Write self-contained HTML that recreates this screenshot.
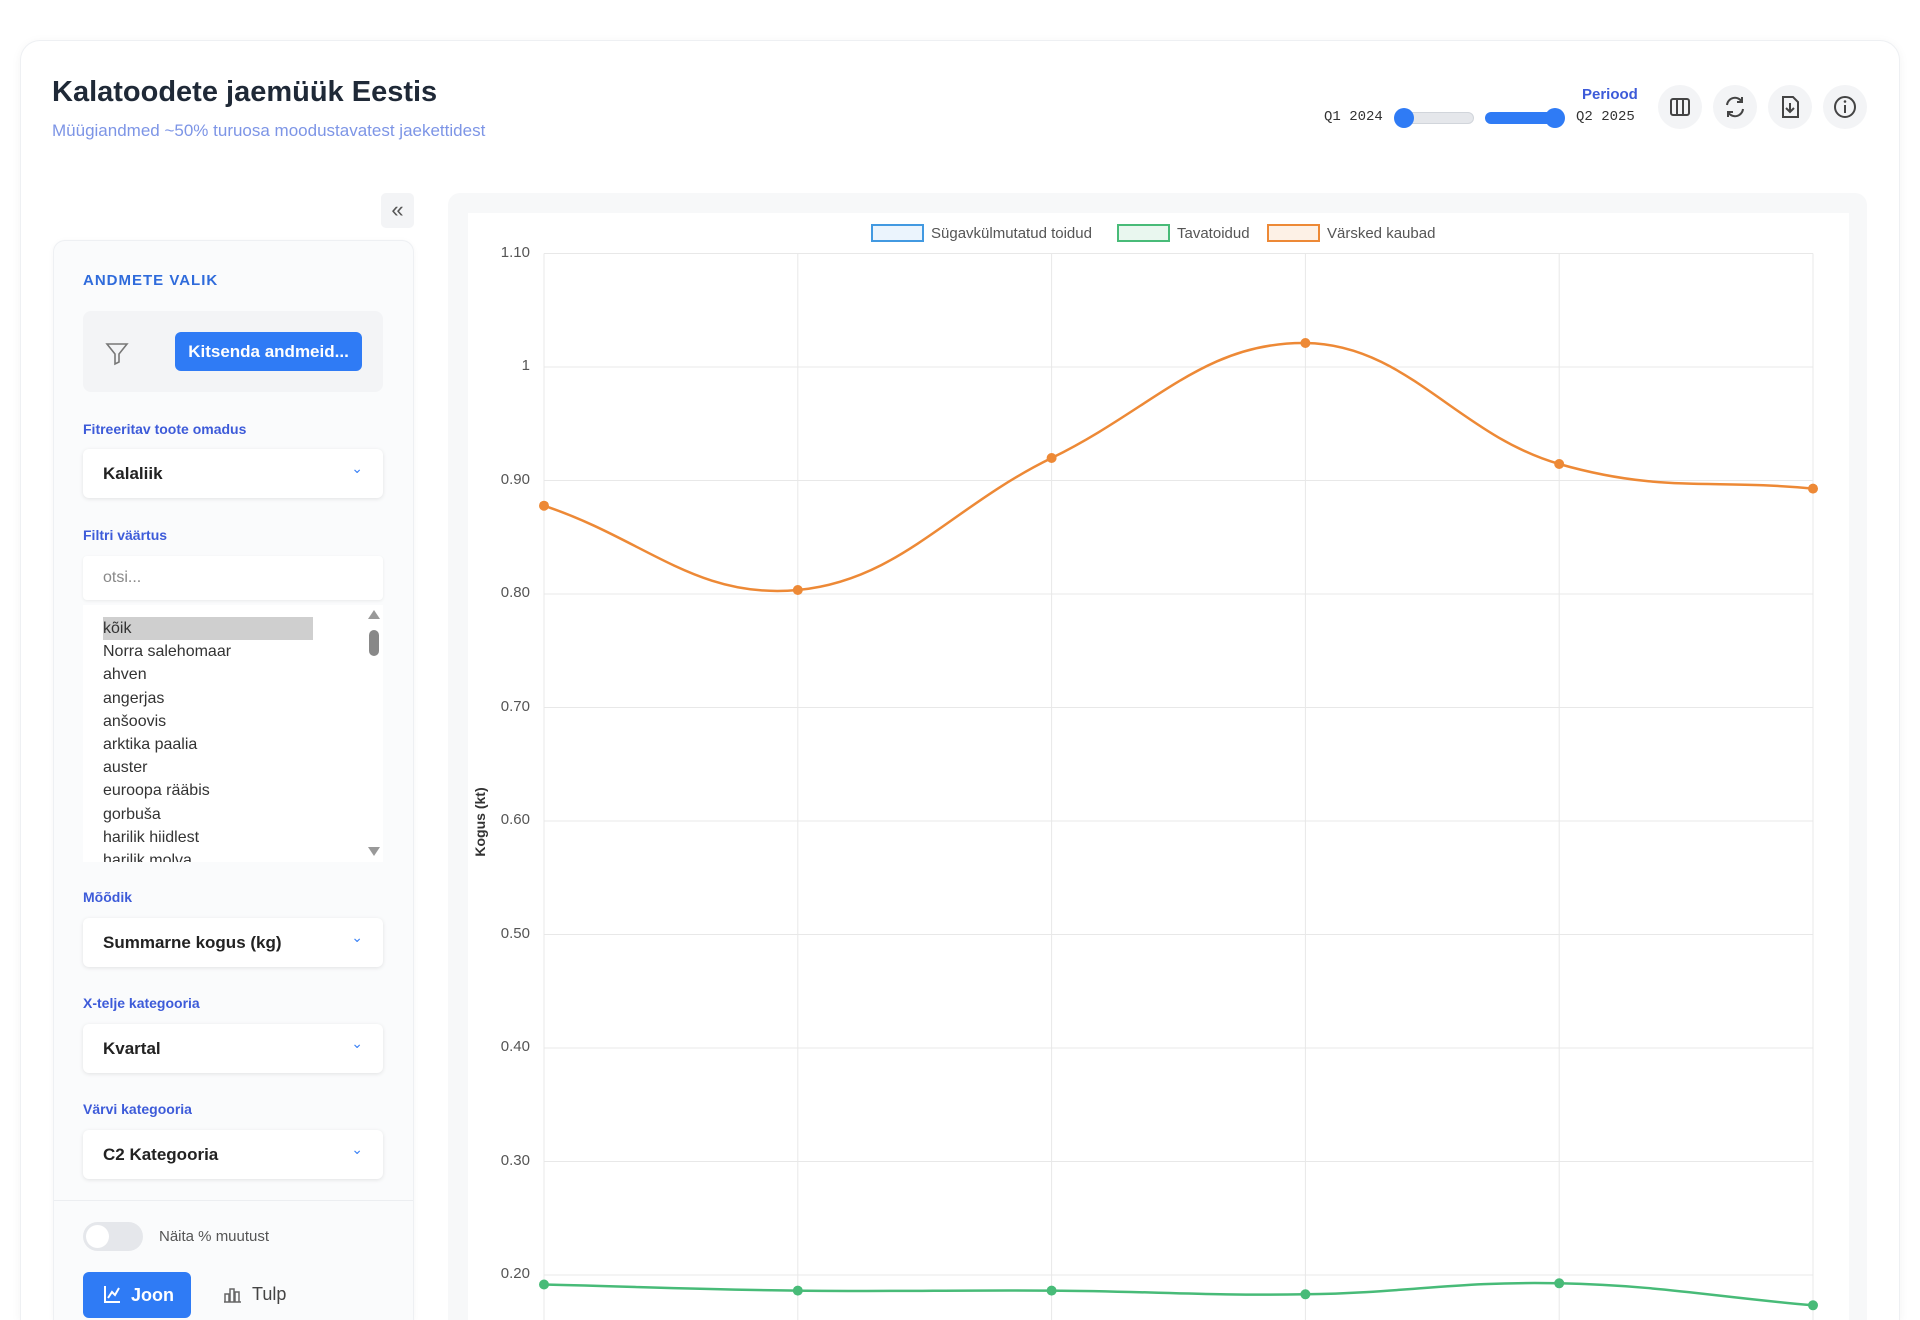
<!DOCTYPE html>
<html style="width:1920px;height:1320px;overflow:hidden"><head><meta charset="utf-8"><style>
*{box-sizing:border-box;margin:0;padding:0}
body{width:1920px;height:1320px;overflow:hidden;background:#fff;font-family:"Liberation Sans",sans-serif;position:relative}
.abs{position:absolute}
.card{left:20px;top:40px;width:1880px;height:1280px;border:1px solid #eef0f3;border-bottom:none;border-radius:20px 20px 0 0;box-shadow:0 2px 10px rgba(0,0,0,.05);background:#fff}
.lbl{position:absolute;left:83px;font-size:14px;font-weight:bold;color:#3d5bd9}
.sel{position:absolute;left:83px;width:300px;height:49px;background:#fff;border-radius:6px;box-shadow:0 1px 4px rgba(0,0,0,.1);font-size:17px;font-weight:bold;color:#222;padding-left:20px;line-height:49px}
.sel:after{content:"⌄";position:absolute;right:20px;top:-5px;color:#3b82f6;font-size:14px;font-weight:normal}
.item{position:absolute;left:103px;font-size:16px;color:#333}
.ib{position:absolute;width:44px;height:44px;border-radius:22px;background:#f3f4f6;top:85px}
.yl{position:absolute;width:60px;text-align:right;left:470px;font-size:15px;color:#555}
</style></head><body>
<div class="abs card"></div>
<div class="abs" style="left:52px;top:76px;font-size:29px;font-weight:bold;color:#1f2937">Kalatoodete jaemüük Eestis</div>
<div class="abs" style="left:52px;top:121px;font-size:17px;color:#7d95e6">Müügiandmed ~50% turuosa moodustavatest jaekettidest</div>

<div class="abs" style="left:1582px;top:86px;font-size:15px;font-weight:bold;color:#3d5bd9;width:55px;text-align:right">Periood</div>
<div class="abs" style="left:1324px;top:109px;font-size:14px;font-family:'Liberation Mono',monospace;color:#333">Q1 2024</div>
<div class="abs" style="left:1576px;top:109px;font-size:14px;font-family:'Liberation Mono',monospace;color:#333">Q2 2025</div>
<div class="abs" style="left:1400px;top:112px;width:74px;height:12px;border-radius:6px;background:#e5e7eb;border:1px solid #d1d5db"></div>
<div class="abs" style="left:1394px;top:108px;width:20px;height:20px;border-radius:10px;background:#2f7bf5"></div>
<div class="abs" style="left:1485px;top:112px;width:76px;height:12px;border-radius:6px;background:#2f7bf5"></div>
<div class="abs" style="left:1545px;top:108px;width:20px;height:20px;border-radius:10px;background:#2f7bf5"></div>
<div class="ib" style="left:1658px"><svg width="44" height="44"><rect x="13" y="14" width="18" height="16" rx="2" fill="none" stroke="#444" stroke-width="2"/><line x1="19" y1="14" x2="19" y2="30" stroke="#444" stroke-width="2"/><line x1="25" y1="14" x2="25" y2="30" stroke="#444" stroke-width="2"/></svg></div>
<div class="ib" style="left:1713px"><svg width="44" height="44"><path d="M14 20a8 8 0 0 1 15-3M30 24a8 8 0 0 1-15 3" fill="none" stroke="#444" stroke-width="2"/><path d="M29 12v5h-5M15 32v-5h5" fill="none" stroke="#444" stroke-width="2"/></svg></div>
<div class="ib" style="left:1768px"><svg width="44" height="44"><path d="M15 12h10l5 5v15H15z" fill="none" stroke="#444" stroke-width="2"/><path d="M22 18v9M18 23l4 4 4-4" fill="none" stroke="#444" stroke-width="2"/></svg></div>
<div class="ib" style="left:1823px"><svg width="44" height="44"><circle cx="22" cy="22" r="10" fill="none" stroke="#444" stroke-width="2"/><line x1="22" y1="20" x2="22" y2="28" stroke="#444" stroke-width="2"/><circle cx="22" cy="16.5" r="1.3" fill="#444"/></svg></div>

<div class="abs" style="left:381px;top:193px;width:33px;height:35px;border-radius:5px;background:#f3f4f6;text-align:center;line-height:33px;font-size:22px;color:#555">«</div>
<div class="abs" style="left:53px;top:240px;width:361px;height:1080px;border:1px solid #eef0f3;border-bottom:none;border-radius:12px 12px 0 0;background:#fafbfc;box-shadow:0 1px 6px rgba(0,0,0,.04)"></div>
<div class="abs" style="left:83px;top:272px;font-size:15px;font-weight:bold;color:#2f6bdb;letter-spacing:1px">ANDMETE VALIK</div>
<div class="abs" style="left:83px;top:311px;width:300px;height:81px;background:#f3f4f6;border-radius:8px"></div>
<svg class="abs" style="left:104px;top:340px" width="26" height="26"><path d="M3 4h20l-8 10v8l-4 2V14z" fill="none" stroke="#777" stroke-width="1.6"/></svg>
<div class="abs" style="left:175px;top:332px;width:187px;height:39px;border-radius:6px;background:#2f7bf5;color:#fff;font-size:17px;font-weight:bold;text-align:center;line-height:39px">Kitsenda andmeid...</div>
<div class="lbl" style="top:421px">Fitreeritav toote omadus</div>
<div class="sel" style="top:449px">Kalaliik</div>
<div class="lbl" style="top:527px">Filtri väärtus</div>
<div class="abs" style="left:83px;top:556px;width:300px;height:44px;background:#fff;border-radius:4px;box-shadow:0 1px 3px rgba(0,0,0,.07);font-size:16px;color:#888;padding-left:20px;line-height:44px">otsi...</div>
<div class="abs" style="left:83px;top:605px;width:300px;height:257px;background:#fff;overflow:hidden">
<div class="abs" style="left:20px;top:12px;width:210px;height:23px;background:#cfcfcf"></div>
<div class="abs" style="left:286px;top:25px;width:10px;height:26px;border-radius:5px;background:#888"></div>
<div class="abs" style="left:285px;top:5px;width:0;height:0;border-left:6px solid transparent;border-right:6px solid transparent;border-bottom:9px solid #999"></div>
<div class="abs" style="left:285px;top:242px;width:0;height:0;border-left:6px solid transparent;border-right:6px solid transparent;border-top:9px solid #999"></div>
</div>
<div class="item" style="top:620px">kõik</div>
<div class="item" style="top:643px">Norra salehomaar</div>
<div class="item" style="top:666px">ahven</div>
<div class="item" style="top:690px">angerjas</div>
<div class="item" style="top:713px">anšoovis</div>
<div class="item" style="top:736px">arktika paalia</div>
<div class="item" style="top:759px">auster</div>
<div class="item" style="top:782px">euroopa rääbis</div>
<div class="item" style="top:806px">gorbuša</div>
<div class="item" style="top:829px">harilik hiidlest</div>
<div class="abs" style="left:83px;top:852px;width:300px;height:10px;overflow:hidden"><div class="item" style="left:20px;top:0">harilik molva</div></div>
<div class="lbl" style="top:889px">Mõõdik</div>
<div class="sel" style="top:918px">Summarne kogus (kg)</div>
<div class="lbl" style="top:995px">X-telje kategooria</div>
<div class="sel" style="top:1024px">Kvartal</div>
<div class="lbl" style="top:1101px">Värvi kategooria</div>
<div class="sel" style="top:1130px">C2 Kategooria</div>
<div class="abs" style="left:54px;top:1200px;width:359px;height:1px;background:#eceef1"></div>
<div class="abs" style="left:83px;top:1222px;width:60px;height:29px;border-radius:15px;background:#e5e7eb"><div class="abs" style="left:3px;top:3px;width:23px;height:23px;border-radius:12px;background:#fff"></div></div>
<div class="abs" style="left:159px;top:1228px;font-size:15px;color:#555">Näita % muutust</div>
<div class="abs" style="left:83px;top:1272px;width:108px;height:46px;border-radius:6px;background:#2f7bf5;color:#fff;font-size:18px;font-weight:bold;line-height:46px;padding-left:48px">Joon</div>
<svg class="abs" style="left:102px;top:1284px" width="20" height="20"><path d="M3 2v16h15M6 14l4-6 3 3 4-7" fill="none" stroke="#fff" stroke-width="2"/></svg>
<svg class="abs" style="left:222px;top:1284px" width="20" height="20"><path d="M3 18V10h4v8M8 18V5h4v13M13 18V8h4v10M2 18h17" fill="none" stroke="#666" stroke-width="1.5"/></svg>
<div class="abs" style="left:252px;top:1284px;font-size:18px;color:#444">Tulp</div>

<div class="abs" style="left:448px;top:193px;width:1419px;height:1127px;border-radius:12px 12px 0 0;background:#f7f8f9"></div>
<div class="abs" style="left:468px;top:213px;width:1381px;height:1107px;background:#fff"></div>
<svg class="abs" style="left:0;top:0" width="1920" height="1320">
<g stroke="#e8e8e8" stroke-width="1">
<line x1="544" y1="253.5" x2="1813" y2="253.5"/><line x1="544" y1="367" x2="1813" y2="367"/><line x1="544" y1="480.5" x2="1813" y2="480.5"/><line x1="544" y1="594" x2="1813" y2="594"/><line x1="544" y1="707.5" x2="1813" y2="707.5"/><line x1="544" y1="821" x2="1813" y2="821"/><line x1="544" y1="934.5" x2="1813" y2="934.5"/><line x1="544" y1="1048" x2="1813" y2="1048"/><line x1="544" y1="1161.5" x2="1813" y2="1161.5"/><line x1="544" y1="1275" x2="1813" y2="1275"/>
<line x1="544" y1="253.5" x2="544" y2="1320"/><line x1="797.8" y1="253.5" x2="797.8" y2="1320"/><line x1="1051.6" y1="253.5" x2="1051.6" y2="1320"/><line x1="1305.4" y1="253.5" x2="1305.4" y2="1320"/><line x1="1559.2" y1="253.5" x2="1559.2" y2="1320"/><line x1="1813" y1="253.5" x2="1813" y2="1320"/>
</g>
<rect x="872" y="225" width="51" height="16" fill="#ebf4fd" stroke="#4299e1" stroke-width="2"/>
<rect x="1118" y="225" width="51" height="16" fill="#e9f7ef" stroke="#48bb78" stroke-width="2"/>
<rect x="1268" y="225" width="51" height="16" fill="#fdf1e6" stroke="#ed8936" stroke-width="2"/>
<g font-family="Liberation Sans" font-size="15" fill="#555">
<text x="931" y="238">Sügavkülmutatud toidud</text><text x="1177" y="238">Tavatoidud</text><text x="1327" y="238">Värsked kaubad</text>
</g>
<text transform="translate(485,822) rotate(-90)" text-anchor="middle" font-family="Liberation Sans" font-size="14" font-weight="bold" fill="#333">Kogus (kt)</text>
<path d="M544,505.7 C645.5,539.4 696.3,599.5 797.8,590 C899.3,580.5 950.1,507.4 1051.6,458 C1153.1,408.6 1203.9,341.8 1305.4,343 C1406.9,344.2 1457.7,434.9 1559.2,464 C1660.7,493.1 1711.5,478.8 1813,488.6" fill="none" stroke="#ed8936" stroke-width="2.5"/>
<g fill="#ed8936"><circle cx="544" cy="505.7" r="5"/><circle cx="797.8" cy="590" r="5"/><circle cx="1051.6" cy="458" r="5"/><circle cx="1305.4" cy="343" r="5"/><circle cx="1559.2" cy="464" r="5"/><circle cx="1813" cy="488.6" r="5"/></g>
<path d="M544,1284.5 C645.5,1286.9 696.3,1289.4 797.8,1290.6 C899.3,1291.8 950.1,1289.9 1051.6,1290.6 C1153.1,1291.3 1203.9,1295.8 1305.4,1294.3 C1406.9,1292.8 1457.7,1281.1 1559.2,1283.3 C1660.7,1285.5 1711.5,1296.5 1813,1305.3" fill="none" stroke="#48bb78" stroke-width="2.5"/>
<g fill="#48bb78"><circle cx="544" cy="1284.5" r="5"/><circle cx="797.8" cy="1290.6" r="5"/><circle cx="1051.6" cy="1290.6" r="5"/><circle cx="1305.4" cy="1294.3" r="5"/><circle cx="1559.2" cy="1283.3" r="5"/><circle cx="1813" cy="1305.3" r="5"/></g>
</svg>
<div class="yl" style="top:244px">1.10</div>
<div class="yl" style="top:357px">1</div>
<div class="yl" style="top:471px">0.90</div>
<div class="yl" style="top:584px">0.80</div>
<div class="yl" style="top:698px">0.70</div>
<div class="yl" style="top:811px">0.60</div>
<div class="yl" style="top:925px">0.50</div>
<div class="yl" style="top:1038px">0.40</div>
<div class="yl" style="top:1152px">0.30</div>
<div class="yl" style="top:1265px">0.20</div>
</body></html>
